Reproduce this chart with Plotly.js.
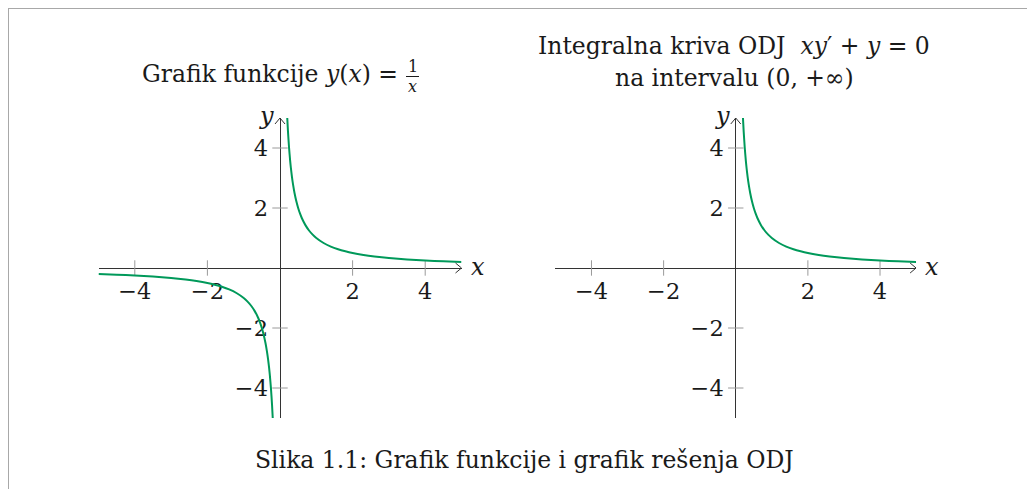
<!DOCTYPE html>
<html>
<head>
<meta charset="utf-8">
<script src="https://cdn.plot.ly/plotly-3.0.1.min.js"></script>
<style>
  html, body { margin: 0; padding: 0; background: #ffffff; }
  #chart { width: 1027px; height: 489px; }
</style>
</head>
<body>
<div id="chart"></div>
<script>
// y = 1/x, branch for x > 0
const posX = [0.2, 0.22, 0.25, 0.28, 0.3, 0.33, 0.36, 0.4, 0.45, 0.5, 0.55, 0.6, 0.7, 0.8, 0.9, 1.0, 1.2, 1.4, 1.6, 1.8, 2.0, 2.3, 2.6, 3.0, 3.5, 4.0, 4.5, 5.0];
const posY = [5.0, 4.545, 4.0, 3.571, 3.333, 3.03, 2.778, 2.5, 2.222, 2.0, 1.818, 1.667, 1.429, 1.25, 1.111, 1.0, 0.833, 0.714, 0.625, 0.556, 0.5, 0.435, 0.385, 0.333, 0.286, 0.25, 0.222, 0.2];
// y = 1/x, branch for x < 0
const negX = [-5.0, -4.5, -4.0, -3.5, -3.0, -2.6, -2.3, -2.0, -1.8, -1.6, -1.4, -1.2, -1.0, -0.9, -0.8, -0.7, -0.6, -0.55, -0.5, -0.45, -0.4, -0.36, -0.33, -0.3, -0.28, -0.25, -0.22, -0.2];
const negY = [-0.2, -0.222, -0.25, -0.286, -0.333, -0.385, -0.435, -0.5, -0.556, -0.625, -0.714, -0.833, -1.0, -1.111, -1.25, -1.429, -1.667, -1.818, -2.0, -2.222, -2.5, -2.778, -3.03, -3.333, -3.571, -4.0, -4.545, -5.0];

// axis ticks
const tickVals = [-4, -2, 2, 4];
const tickText = ['\u22124', '\u22122', '2', '4'];
const axisRange = [-5, 5];

const W = 1027, H = 489;
const fx = p => p / W;           // pixel -> paper x
const fy = p => 1 - p / H;       // pixel -> paper y

const SERIF = 'DejaVu Serif, Liberation Serif, serif';
const CURVE = '#00995a';
const AXIS = '#333333';
const TICK = '#9a9a9a';
const INK = '#1a1a1a';

const leftDom = [fx(98.5), fx(461.5)];
const rightDom = [fx(555.4), fx(916.1)];
const yDom = [fy(418), fy(118)];
const mid = d => (d[0] + d[1]) / 2;

const zeros = tickVals.map(() => 0);

function curve(x, y, xa, ya) {
  return { x: x, y: y, xaxis: xa, yaxis: ya, type: 'scatter', mode: 'lines',
    line: { color: CURVE, width: 2, shape: 'spline', smoothing: 0.6 },
    hoverinfo: 'skip', showlegend: false, cliponaxis: true };
}
function tickMarks(xa, ya) {
  return [
    { x: tickVals, y: zeros, xaxis: xa, yaxis: ya, type: 'scatter', mode: 'markers',
      marker: { symbol: 'line-ns', size: 11, color: TICK, line: { color: TICK, width: 1 } },
      hoverinfo: 'skip', showlegend: false, cliponaxis: false },
    { x: zeros, y: tickVals, xaxis: xa, yaxis: ya, type: 'scatter', mode: 'markers',
      marker: { symbol: 'line-ew', size: 11, color: TICK, line: { color: TICK, width: 1 } },
      hoverinfo: 'skip', showlegend: false, cliponaxis: false }
  ];
}

const data = [
  ...tickMarks('x', 'y'),
  ...tickMarks('x2', 'y2'),
  curve(negX, negY, 'x', 'y'),
  curve(posX, posY, 'x', 'y'),
  curve(posX, posY, 'x2', 'y2')
];

const tickFont = { family: SERIF, size: 22.5, color: INK };

function xAxis(dom) {
  return { domain: dom, range: axisRange, anchor: 'free', position: mid(yDom),
    showgrid: false, showline: false, zeroline: true, zerolinecolor: AXIS, zerolinewidth: 1,
    ticks: '', tickvals: tickVals, ticktext: tickText, ticklabelstandoff: 7,
    tickfont: tickFont, layer: 'below traces', fixedrange: true };
}
function yAxis(xdom) {
  return { domain: yDom, range: axisRange, anchor: 'free', position: mid(xdom),
    showgrid: false, showline: false, zeroline: true, zerolinecolor: AXIS, zerolinewidth: 1,
    ticks: '', tickvals: tickVals, ticktext: tickText, ticklabelstandoff: 12,
    tickfont: tickFont, layer: 'below traces', fixedrange: true };
}

function arrows(xr, yr) {
  return [
    { type: 'path', xref: xr, yref: yr, xsizemode: 'pixel', ysizemode: 'pixel',
      xanchor: axisRange[1], yanchor: 0, path: 'M -6,5 L 0,0 L -6,-5',
      line: { color: AXIS, width: 1 } },
    { type: 'path', xref: xr, yref: yr, xsizemode: 'pixel', ysizemode: 'pixel',
      xanchor: 0, yanchor: axisRange[1], path: 'M -5,-6 L 0,0 L 5,-6',
      line: { color: AXIS, width: 1 } }
  ];
}
function axisLabels(xr, yr) {
  return [
    { xref: xr, yref: yr, x: axisRange[1], y: 0, text: '<i>x</i>', showarrow: false,
      xanchor: 'left', yanchor: 'middle', xshift: 7, yshift: 1,
      font: { family: SERIF, size: 24, color: INK } },
    { xref: xr, yref: yr, x: 0, y: axisRange[1], text: '<i>y</i>', showarrow: false,
      xanchor: 'right', yanchor: 'middle', xshift: -4, yshift: 2,
      font: { family: SERIF, size: 24, color: INK } }
  ];
}

const txt = { family: SERIF, size: 23.5, color: INK };
const small = { family: SERIF, size: 16, color: INK };

const layout = {
  width: W, height: H,
  margin: { l: 0, r: 0, t: 0, b: 0 },
  paper_bgcolor: '#ffffff', plot_bgcolor: 'rgba(0,0,0,0)',
  showlegend: false,
  xaxis: xAxis(leftDom), yaxis: yAxis(leftDom),
  xaxis2: xAxis(rightDom), yaxis2: yAxis(rightDom),
  shapes: [
    // page frame
    { type: 'line', xref: 'paper', yref: 'paper', x0: fx(8), x1: 1, y0: fy(8.5), y1: fy(8.5),
      line: { color: '#a8a8a8', width: 1 } },
    { type: 'line', xref: 'paper', yref: 'paper', x0: fx(8.5), x1: fx(8.5), y0: fy(8), y1: 0,
      line: { color: '#a8a8a8', width: 1 } },
    // fraction bar in the left title
    { type: 'line', xref: 'paper', yref: 'paper', x0: fx(406), x1: fx(419), y0: fy(76.5), y1: fy(76.5),
      line: { color: INK, width: 1 } },
    ...arrows('x', 'y'),
    ...arrows('x2', 'y2')
  ],
  annotations: [
    ...axisLabels('x', 'y'),
    ...axisLabels('x2', 'y2'),
    { xref: 'paper', yref: 'paper', x: fx(400), y: fy(74), xanchor: 'right', yanchor: 'middle',
      text: 'Grafik funkcije <i>y</i>(<i>x</i>) =', showarrow: false, font: txt },
    { xref: 'paper', yref: 'paper', x: fx(412.5), y: fy(66), xanchor: 'center', yanchor: 'middle',
      text: '1', showarrow: false, font: small },
    { xref: 'paper', yref: 'paper', x: fx(412.5), y: fy(86), xanchor: 'center', yanchor: 'middle',
      text: '<i>x</i>', showarrow: false, font: small },
    { xref: 'paper', yref: 'paper', x: fx(734), y: fy(46), xanchor: 'center', yanchor: 'middle',
      text: 'Integralna kriva ODJ  <i>xy</i>\u2032 + <i>y</i> = 0', showarrow: false, font: txt },
    { xref: 'paper', yref: 'paper', x: fx(734), y: fy(78), xanchor: 'center', yanchor: 'middle',
      text: 'na intervalu (0, +\u221e)', showarrow: false, font: txt },
    { xref: 'paper', yref: 'paper', x: fx(524), y: fy(460), xanchor: 'center', yanchor: 'middle',
      text: 'Slika 1.1: Grafik funkcije i grafik rešenja ODJ', showarrow: false, font: txt }
  ]
};

Plotly.newPlot('chart', data, layout, { staticPlot: true, displayModeBar: false });
</script>
</body>
</html>
